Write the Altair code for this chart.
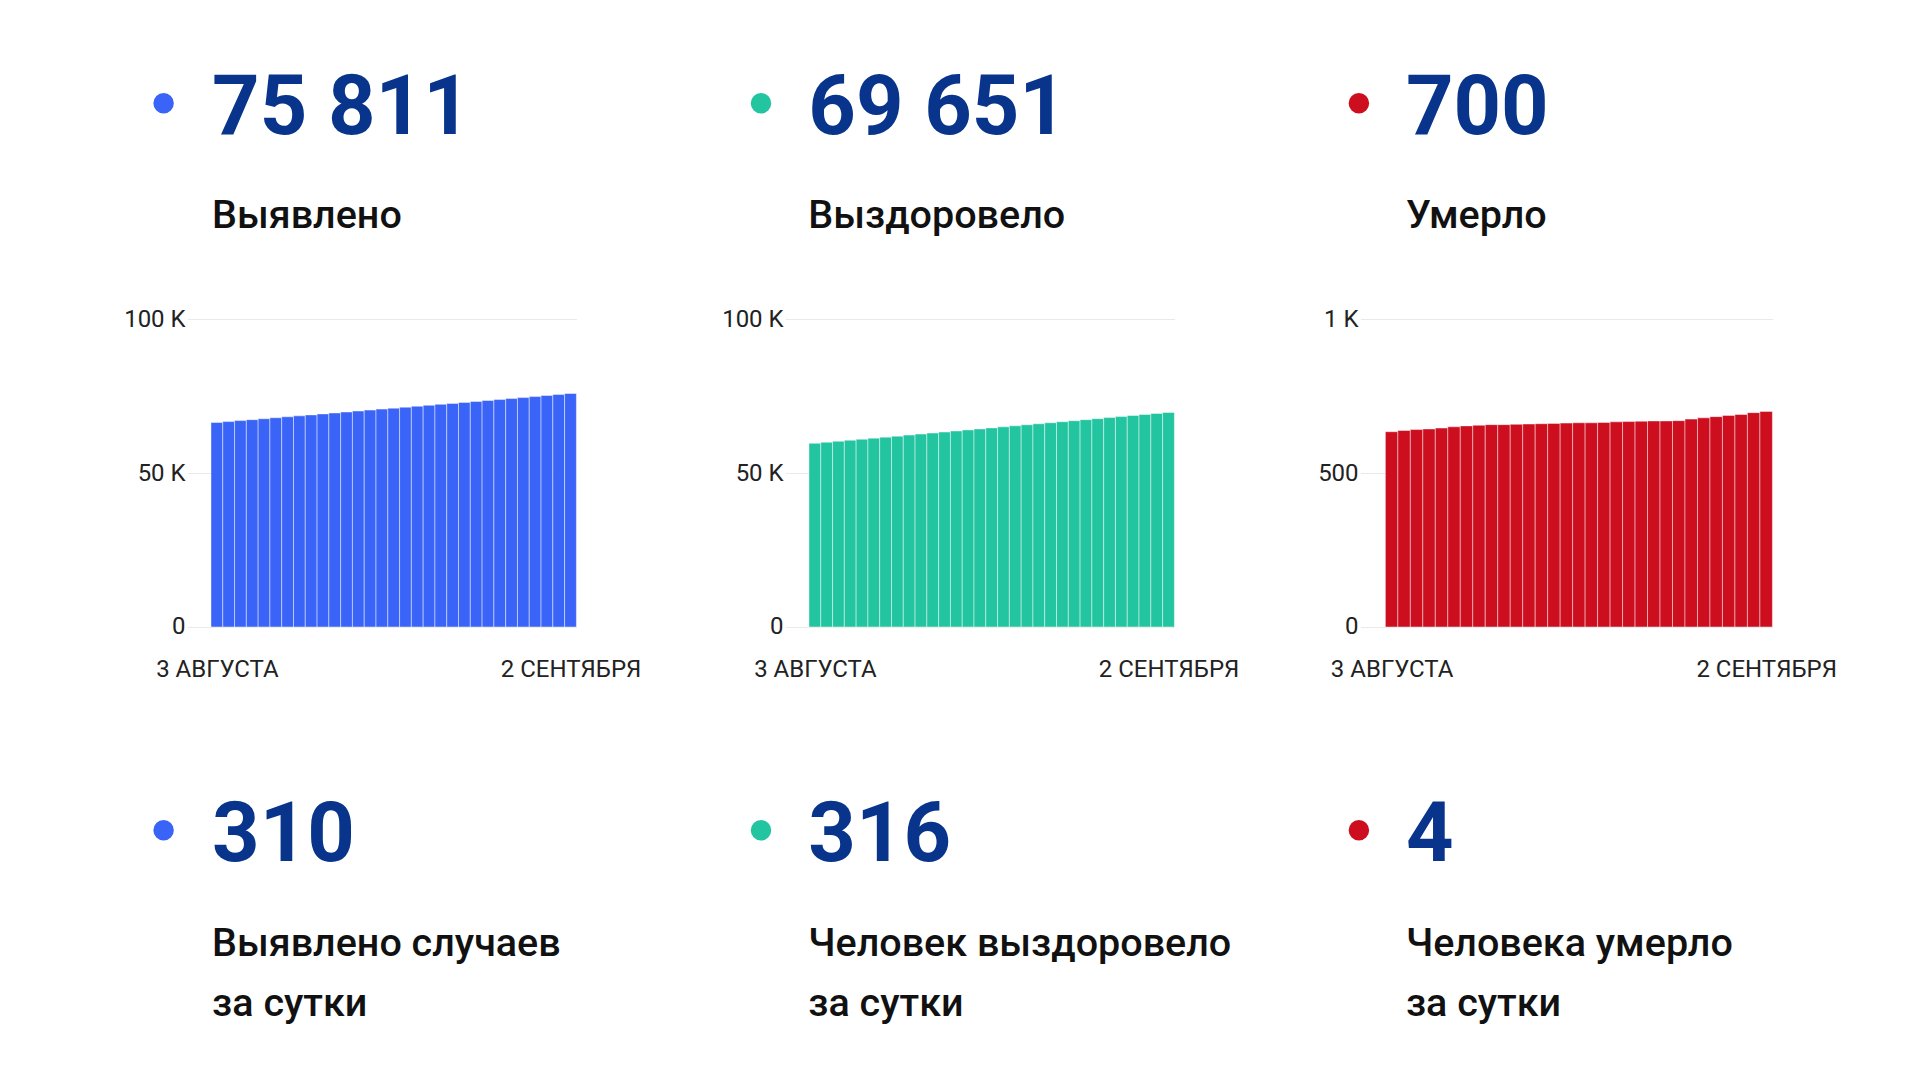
import altair as alt
import pandas as pd

# ---------------- data ----------------
totals = ["75 811", "69 651", "700"]
total_titles = ["Выявлено", "Выздоровело", "Умерло"]
daily = ["310", "316", "4"]
daily_titles = [["Выявлено случаев", "за сутки"],
                ["Человек выздоровело", "за сутки"],
                ["Человека умерло", "за сутки"]]

dates = [f"{d} августа" for d in range(3, 32)] + [f"{d} сентября" for d in range(1, 3)]
x_labels = ["3 АВГУСТА", "2 СЕНТЯБРЯ"]

cases = [66402, 66695, 67010, 67318, 67620, 67935, 68249, 68552, 68870, 69183,
         69492, 69801, 70120, 70428, 70741, 71055, 71368, 71670, 71986, 72298,
         72605, 72917, 73229, 73540, 73851, 74170, 74488, 74811, 75150, 75501, 75811]
recovered = [59640, 59975, 60305, 60641, 60968, 61302, 61640, 61971, 62309, 62640,
             62975, 63306, 63644, 63977, 64310, 64641, 64979, 65312, 65646, 65978,
             66316, 66650, 66983, 67318, 67650, 67987, 68320, 68660, 68998, 69335, 69651]
deaths = [634, 638, 641, 643, 646, 650, 653, 655, 657, 657,
          658, 659, 660, 661, 662, 663, 663, 664, 666, 667,
          668, 669, 669, 670, 675, 679, 683, 687, 690, 696, 700]
series = [cases, recovered, deaths]
y_max = [100000, 100000, 1000]
y_ticks = [[0, 50000, 100000], [0, 50000, 100000], [0, 500, 1000]]

# ---------------- styles ----------------
colors = ["#3a64f8", "#22c5a0", "#cc0e1e"]
number_color = "#08348c"
NUM_FONT = "Roboto"
TXT_FONT = "Roboto"

col_w = [598, 575, 500]
chart_w = [389, 389, 412]
chart_h = 308
head_h = 311
foot_h = 440
dot_x = [-23.8, -24.4, -1.5]
txt_x = [24.7, 22.9, 45.5]
NUM_SIZE = 83
LBL_SIZE = 39.5
AX_SIZE = 24


def header(c):
    df = pd.DataFrame({"num": [totals[c]], "title": [total_titles[c]]})
    base = alt.Chart(df).properties(width=col_w[c], height=head_h)
    dot = base.mark_circle(size=420, color=colors[c], opacity=1).encode(
        x=alt.value(dot_x[c]), y=alt.value(95.3))
    num = base.mark_text(align="left", baseline="alphabetic", font=NUM_FONT,
                         fontSize=NUM_SIZE, fontWeight="bold", color=number_color).encode(
        x=alt.value(txt_x[c]), y=alt.value(126), text="num:N")
    ttl = base.mark_text(align="left", baseline="alphabetic", font=TXT_FONT,
                         fontSize=LBL_SIZE, fontWeight=500, color="#111111").encode(
        x=alt.value(txt_x[c]), y=alt.value(220.2), text="title:N")
    return alt.layer(dot, num, ttl)


def footer(c):
    df = pd.DataFrame({"num": [daily[c]], "title": [daily_titles[c]]})
    base = alt.Chart(df).properties(width=col_w[c], height=foot_h)
    dot = base.mark_circle(size=420, color=colors[c], opacity=1).encode(
        x=alt.value(dot_x[c]), y=alt.value(203.3))
    num = base.mark_text(align="left", baseline="alphabetic", font=NUM_FONT,
                         fontSize=NUM_SIZE, fontWeight="bold", color=number_color).encode(
        x=alt.value(txt_x[c]), y=alt.value(234), text="num:N")
    ttl = base.mark_text(align="left", baseline="alphabetic", font=TXT_FONT,
                         fontSize=LBL_SIZE, fontWeight=500, color="#111111",
                         lineHeight=60).encode(
        x=alt.value(txt_x[c]), y=alt.value(329), text="title:N")
    return alt.layer(dot, num, ttl)


def bars(c):
    df = pd.DataFrame({"i": list(range(len(dates))), "date": dates, "value": series[c]})
    x_expr = f"datum.value < 15 ? '{x_labels[0]}' : '{x_labels[1]}'"
    y_expr = ("datum.value >= 1000 ? format(datum.value / 1000, 'd') + ' K' : "
              "format(datum.value, 'd')")
    return alt.Chart(df).transform_calculate(i2="datum.i + 1").mark_bar(
        color=colors[c], stroke="white", strokeWidth=1, strokeOpacity=0.45
    ).encode(
        x=alt.X("i:Q", scale=alt.Scale(domain=[-2, 31], nice=False, zero=False),
                axis=alt.Axis(values=[0.5, 30.5], labelExpr=x_expr, title=None,
                              grid=False, domain=False, ticks=False, tickSize=0,
                              labelPadding=31, labelFontSize=AX_SIZE, labelFont=TXT_FONT,
                              labelColor="#222222", labelFlush=False,
                              labelOverlap=False)),
        x2="i2:Q",
        y=alt.Y("value:Q", scale=alt.Scale(domain=[0, y_max[c]], nice=False),
                axis=alt.Axis(values=y_ticks[c], labelExpr=y_expr, title=None,
                              domain=False, ticks=False, tickSize=0, labelPadding=2.3,
                              gridColor="#e9e9e9", gridWidth=1.2, labelFontSize=AX_SIZE,
                              labelFont=TXT_FONT, labelColor="#222222")),
        y2=alt.datum(0),
        tooltip=["date:N", "value:Q"],
    ).properties(width=chart_w[c], height=chart_h)


panels = [header(c) for c in range(3)] + [bars(c) for c in range(3)] + [footer(c) for c in range(3)]

chart = alt.concat(*panels, columns=3, spacing=0, bounds="flush", align="each").properties(
    padding={"left": 115.4, "top": 0, "right": 0, "bottom": 0},
    background="white",
).configure_view(stroke="transparent", strokeWidth=0)

chart.save("out.html", embed_options={"renderer": "svg", "actions": False})
